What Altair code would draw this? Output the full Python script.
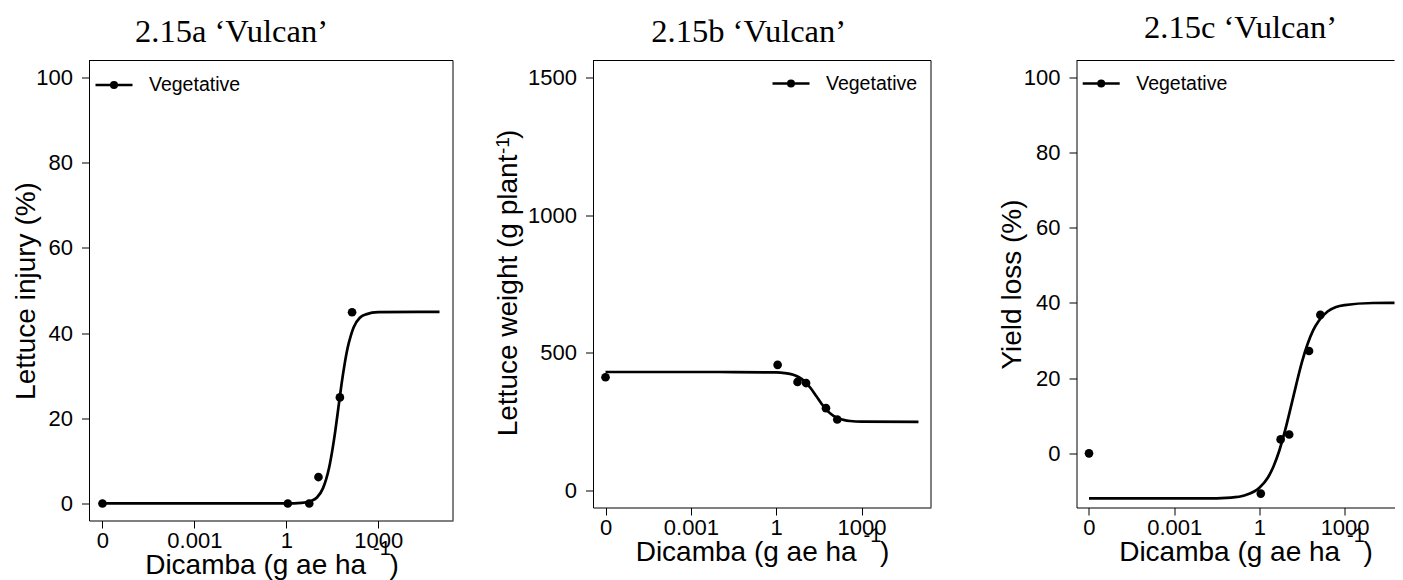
import altair as alt
import pandas as pd

# ---------------- data ----------------
ZERO_AT = 1e-6                      # position where the 0 dose is drawn on the log axis
doses = [0, 1.12, 5.6, 11.2, 56, 140]
injury = [0, 0, 0, 6.2, 24.9, 44.9]
weight = [412, 457, 395, 391, 300, 259]
yield_loss = [0, -10.7, 3.7, 5.0, 27.2, 36.8]

curve_a_dose = [1e-6, 0.01, 1, 3.16, 6.31, 10, 15.8, 20, 25.1, 31.6, 39.8, 50.1,
                63.1, 79.4, 100, 126, 158, 251, 398, 1000, 1e5]
curve_a_val = [0, 0, 0.01, 0.13, 0.56, 1.4, 3.6, 5.7, 8.5, 12.4, 17.1, 22.5,
               27.9, 32.6, 36.5, 39.3, 41.4, 43.6, 44.4, 44.9, 45]

curve_b_dose = [1e-6, 0.01, 1, 2, 3.98, 6.31, 10, 15.8, 25.1, 39.8, 63.1, 100,
                158, 251, 398, 1000, 1e5]
curve_b_val = [431, 431, 429.6, 427.2, 420.9, 412, 397, 374, 345, 315, 290, 272.8,
               262.3, 256.5, 253.4, 250.9, 250]

curve_c_dose = [1e-6, 0.01, 0.1, 0.316, 1, 2, 3.16, 5.01, 7.94, 12.6, 20, 31.6,
                50.1, 79.4, 126, 251, 501, 1000, 1e4, 1e5]
curve_c_val = [-12, -12, -11.75, -11.14, -9.16, -6.43, -3.42, 0.69, 5.94, 12.06, 18.4, 24.3,
               29.1, 32.8, 35.3, 37.7, 38.9, 39.4, 39.95, 40]

x_ticks = [1e-6, 0.001, 1, 1000]
series_name = "Vegetative"

FONT = "Liberation Sans"
SERIF = "Liberation Serif"
NB = "\u00a0"
LEG_PATH = "M-1,0L1,0M0.15,0A0.15,0.15,0,1,1,-0.15,0A0.15,0.15,0,1,1,0.15,0Z"


def panel(title, title_dx, title_offset, vals, cdose, cvals, ydom, yticks,
          ytitle, ytitle_x, ytitle_y, w, h, xdom, leg_x, leg_y, right_border,
          xtitle_x, ysup=None):
    pts = pd.DataFrame({"dose": [ZERO_AT if d == 0 else d for d in doses], "value": vals})
    crv = pd.DataFrame({"dose": cdose, "value": cvals, "series": series_name})

    xscale = alt.Scale(type="log", domain=xdom, nice=False)
    yscale = alt.Scale(domain=ydom, nice=False, zero=False)
    xtitle_y = 52.5

    xaxis = alt.Axis(values=x_ticks,
                     labelExpr="datum.value < 1e-5 ? '0' : format(datum.value, '~g')",
                     title="Dicamba (g ae ha" + NB * 3 + ")",
                     titleX=xtitle_x, titleY=xtitle_y, titleAlign="center",
                     titleBaseline="alphabetic", titleAnchor="middle")
    yaxis = alt.Axis(values=yticks, format="d", title=ytitle, titleX=ytitle_x, titleY=ytitle_y,
                     titleAngle=270, titleAlign="center", titleBaseline="alphabetic")

    line = alt.Chart(crv).mark_line(strokeWidth=2.7, interpolate="monotone", clip=True).encode(
        x=alt.X("dose:Q", scale=xscale, axis=xaxis),
        y=alt.Y("value:Q", scale=yscale, axis=yaxis),
        color=alt.Color("series:N", scale=alt.Scale(range=["black"]),
                        legend=alt.Legend(title=None, orient="none", legendX=leg_x, legendY=leg_y,
                                          symbolType=LEG_PATH, symbolSize=1369,
                                          symbolStrokeWidth=2.5, symbolFillColor="black",
                                          symbolStrokeColor="black", labelFont=FONT,
                                          labelFontSize=19.5, labelColor="black",
                                          labelOffset=15, padding=0)),
    )
    points = alt.Chart(pts).mark_circle(size=75, color="black", opacity=1).encode(
        x="dose:Q", y="value:Q")

    one = pd.DataFrame({"t": ["-1"]})
    sup_x = alt.Chart(one).mark_text(font=FONT, fontSize=20, align="center",
                                     baseline="alphabetic", color="black").encode(
        text="t:N", x=alt.value(xtitle_x + 110.5), y=alt.value(h + xtitle_y - 17.7))

    top_rule = alt.Chart(one).mark_rule(color="black", strokeWidth=1).encode(y=alt.value(0))
    layers = [line, points, sup_x, top_rule]
    if right_border:
        layers.append(alt.Chart(one).mark_rule(color="black", strokeWidth=1).encode(x=alt.value(w)))
    if ysup is not None:
        layers.append(alt.Chart(one).mark_text(font=FONT, fontSize=19, align="center",
                                               baseline="alphabetic", angle=270,
                                               color="black").encode(
            text="t:N", x=alt.value(ysup[0]), y=alt.value(ysup[1])))

    return alt.layer(*layers).properties(
        width=w, height=h,
        title=alt.TitleParams(text=title, font=SERIF, fontSize=32.5, fontWeight="normal",
                              color="black", anchor="middle", frame="group",
                              dx=title_dx, offset=title_offset, baseline="alphabetic"),
    )


log_full = [10 ** -6.44, 10 ** 5.44]
C_WIDTH = 318
log_c = [10 ** -6.44, 10 ** 4.757]     # same px per decade as the other panels, cut at the page edge

pa = panel("2.15a \u2018Vulcan\u2019", -39.5, -14.5, injury, curve_a_dose, curve_a_val,
           [-4, 104], [0, 20, 40, 60, 80, 100], "Lettuce injury (%)", -55, 230,
           364, 460, log_full, 5, 4.5, True, 182.5)

pb = panel("2.15b \u2018Vulcan\u2019", -13.3, -14.5, weight, curve_b_dose, curve_b_val,
           [-60, 1560], [0, 500, 1000, 1500], "Lettuce weight (g plant" + NB * 2 + ")",
           -77, 222, 338, 447, log_full, 178, 3, True, 169, ysup=(-84, 85))

pc = panel("2.15c \u2018Vulcan\u2019", 5, -10.5, yield_loss, curve_c_dose, curve_c_val,
           [-14.4, 104.4], [0, 20, 40, 60, 80, 100], "Yield loss (%)", -56, 223.5,
           C_WIDTH, 447, log_c, 4.7, 3, False, 169)

inner = alt.hconcat(pa, pb, spacing=40).resolve_scale(color="independent").resolve_legend(
    color="independent")

chart = alt.hconcat(inner, pc, spacing=66.5).resolve_scale(
    color="independent").resolve_legend(color="independent").properties(
    padding={"left": 4, "top": 3.5, "right": 0, "bottom": 0},
    background="white",
).configure_view(strokeWidth=0).configure_axis(
    grid=False, labelFont=FONT, labelFontSize=22, labelColor="black",
    tickColor="black", tickSize=7.5, tickWidth=1, domainColor="black", domainWidth=1,
    titleFont=FONT, titleFontSize=28, titleFontWeight="normal", titleColor="black",
).configure_axisX(labelPadding=2).configure_axisY(labelPadding=9)

chart.save("out.html", embed_options={"renderer": "svg", "actions": False})
